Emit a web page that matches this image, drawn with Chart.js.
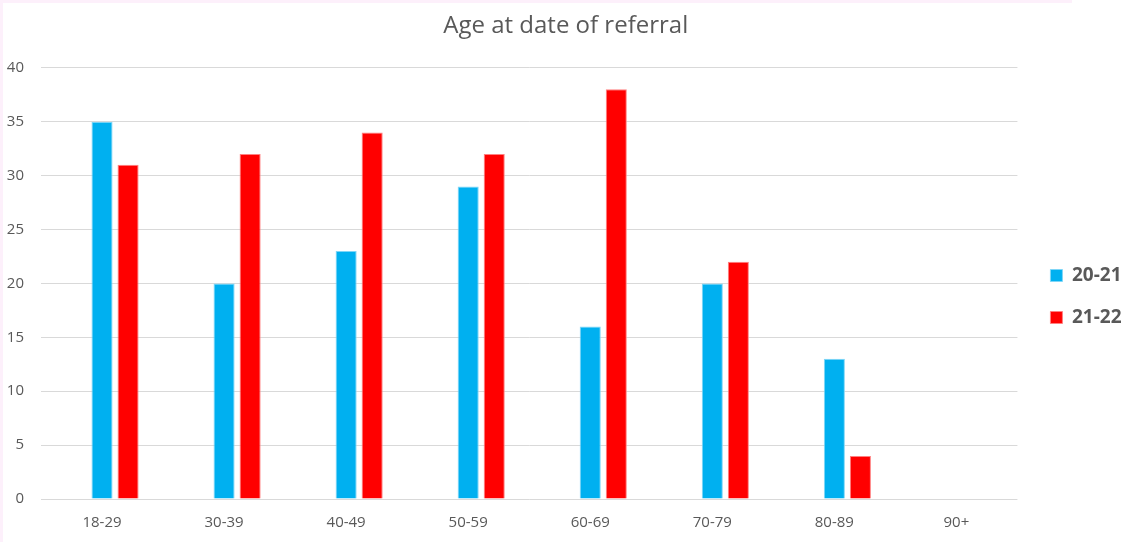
<!DOCTYPE html>
<html>
<head>
<meta charset="utf-8">
<script src="https://cdn.jsdelivr.net/npm/chart.js@4"></script>
<style>
  html, body { margin: 0; padding: 0; background: #fff; }
  #wrap { position: relative; width: 1132px; height: 542px; }
  #top { position: absolute; left: 0; top: 0; width: 1072px; height: 3px; background: #fdf0fb; }
  #left { position: absolute; left: 0; top: 0; width: 3px; height: 542px; background: #fdf0fb; }
</style>
</head>
<body>
<div id="wrap">
  <canvas id="c" width="1132" height="542"></canvas>
  <div id="top"></div><div id="left"></div>
</div>
<script>
const categories = ["18-29", "30-39", "40-49", "50-59", "60-69", "70-79", "80-89", "90+"];
const series2021 = [35, 20, 23, 29, 16, 20, 13, null];
const series2122 = [31, 32, 34, 32, 38, 22, 4, null];
const emptySeries = [null, null, null, null, null, null, null, null];
const yTicks = [0, 5, 10, 15, 20, 25, 30, 35, 40];

const grey = "#595959";
const fontFam = "'Open Sans', 'Liberation Sans', sans-serif";

new Chart(document.getElementById("c"), {
  type: "bar",
  data: {
    labels: categories,
    datasets: [
      { label: "", data: emptySeries, backgroundColor: "rgba(0,0,0,0)" },
      { label: "20-21", data: series2021, backgroundColor: "#00B0F0", borderColor: "#7fd6f7", borderWidth: 1 },
      { label: "21-22", data: series2122, backgroundColor: "#FF0000", borderColor: "#ff8080", borderWidth: 1 }
    ]
  },
  options: {
    responsive: false,
    animation: false,
    datasets: { bar: { categoryPercentage: 0.64, barPercentage: 0.81 } },
    layout: { padding: { left: 0, right: 0.5, top: 0, bottom: 0 } },
    plugins: {
      title: {
        display: true,
        text: "Age at date of referral",
        color: grey,
        font: { family: fontFam, size: 24, weight: "normal" },
        padding: { top: 12, bottom: 27 }
      },
      legend: {
        position: "right",
        title: { display: true, text: "", font: { size: 10 }, padding: { top: 0, bottom: 39 } },
        labels: {
          filter: (item) => item.text !== "",
          color: grey,
          boxWidth: 12,
          boxHeight: 12,
          padding: 23,
          font: { family: fontFam, size: 19, weight: "bold" }
        }
      },
      tooltip: { enabled: false }
    },
    scales: {
      x: {
        grid: { display: false, drawTicks: false },
        border: { display: false },
        ticks: { color: grey, font: { family: fontFam, size: 15 }, padding: 15 },
        afterFit: (axis) => { axis.height = 43; }
      },
      y: {
        min: 0, max: 40,
        afterBuildTicks: (axis) => { axis.ticks = yTicks.map(v => ({ value: v })); },
        grid: { color: "#d9d9d9", lineWidth: 1, drawTicks: false },
        border: { display: false },
        ticks: { color: grey, font: { family: fontFam, size: 15 }, padding: 17 },
        afterFit: (axis) => { axis.width = 41; }
      },
      spacer: {
        type: "linear",
        position: "right",
        display: true,
        grid: { display: false, drawTicks: false },
        border: { display: false },
        ticks: { display: false },
        afterFit: (axis) => { axis.width = 10; }
      }
    }
  }
});
</script>
</body>
</html>
